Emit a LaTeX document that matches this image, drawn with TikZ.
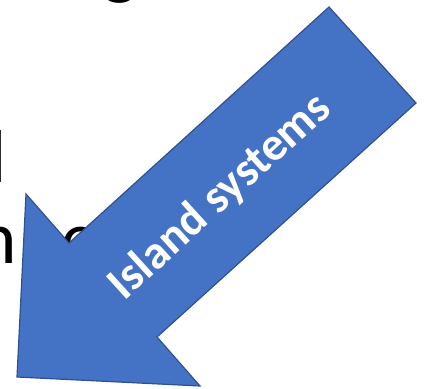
\documentclass[tikz,border=0pt]{standalone}
\usepackage{fontspec}
\setmainfont{Carlito}
\definecolor{arrowblue}{HTML}{4472C4}
\definecolor{arrowedge}{HTML}{2F528F}
\begin{document}
\begin{tikzpicture}[x=1pt,y=-1pt,
  bgtext/.style={anchor=base west, inner sep=0pt, outer sep=0pt, font=\fontsize{75}{90}\selectfont, text=black},
  bigarrow/.style={fill=arrowblue, draw=arrowedge, line width=1.2pt, line join=miter},
  arrowlabel/.style={text=white, font=\bfseries\fontsize{47}{56}\selectfont, rotate=42.2, inner sep=0pt}]
\useasboundingbox (0,0) rectangle (436,388);
\clip (0,0) rectangle (436,388);
\node[bgtext] (g) at (102,-9.5) {g};
\node[bgtext] (l) at (-10,182) {l};
\node[bgtext] (n) at (-22,263) {n};
\node[bgtext] (e) at (61,263) {e};
\coordinate (tailA) at (329,7);
\coordinate (tailB) at (416,103);
\coordinate (neckB) at (157,337);
\coordinate (barbB) at (200,386);
\coordinate (tip) at (17,377);
\coordinate (barbA) at (26,194);
\coordinate (neckA) at (69,243);
\draw[bigarrow] (tailA) -- (tailB) -- (neckB) -- (barbB) -- (tip) -- (barbA) -- (neckA) -- cycle;
\node[arrowlabel] (label) at (220,197) {Island systems};
\end{tikzpicture}
\end{document}
